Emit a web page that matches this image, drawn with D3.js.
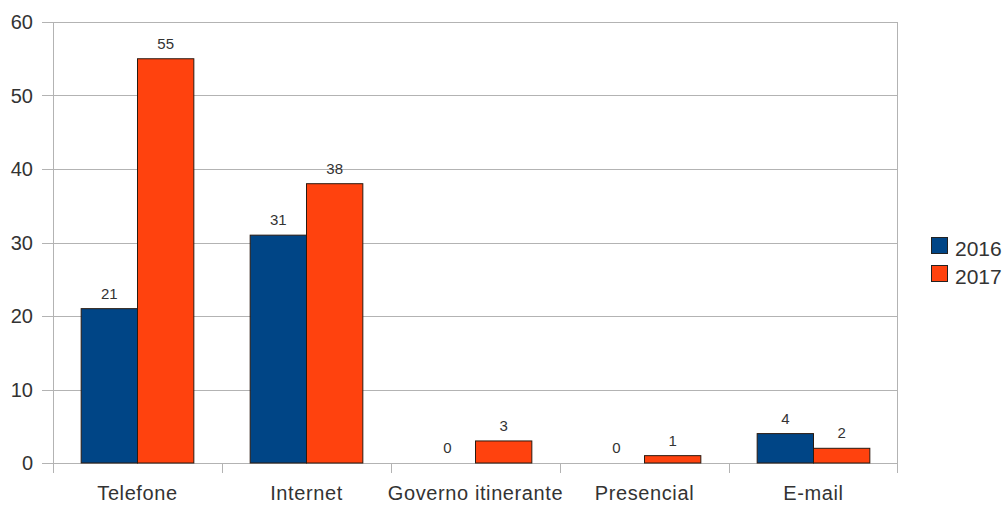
<!DOCTYPE html>
<html>
<head>
<meta charset="utf-8">
<script src="https://cdn.jsdelivr.net/npm/d3@7"></script>
<style>
  body { margin: 0; background: #fff; }
  text { font-family: "Liberation Sans", Arial, sans-serif; fill: #333; }
</style>
</head>
<body>
<svg id="chart" width="1005" height="505"></svg>
<script>
// chart data
var categories = ['Telefone', 'Internet', 'Governo itinerante', 'Presencial', 'E-mail'];
var years = ['2016', '2017'];
var values2016 = [21, 31, 0, 0, 4];
var values2017 = [55, 38, 3, 1, 2];
var yTicks = [0, 10, 20, 30, 40, 50, 60];
var colors = { '2016': '#004586', '2017': '#ff420e' };

var rows = categories.map(function(c, i) {
  return { cat: c, vals: [values2016[i], values2017[i]] };
});

var margin = { left: 53, right: 107, top: 22, bottom: 42 };
var width = 1005 - margin.left - margin.right,
    height = 505 - margin.top - margin.bottom;

var svg = d3.select('#chart');
var g = svg.append('g').attr('transform', 'translate(' + margin.left + ',' + margin.top + ')');

var x = d3.scaleBand().domain(categories).range([0, width]);
var x1 = d3.scaleBand().domain(years).range([x.bandwidth() / 6, x.bandwidth() * 5 / 6]);
var y = d3.scaleLinear().domain([0, 60]).range([height, 0]);

// gridlines + y ticks
g.selectAll('.grid').data(yTicks).enter().append('line')
  .attr('x1', -11).attr('x2', width)
  .attr('y1', function(d) { return Math.round(y(d)) + 0.5; })
  .attr('y2', function(d) { return Math.round(y(d)) + 0.5; })
  .attr('stroke', '#b3b3b3');

g.selectAll('.ylab').data(yTicks).enter().append('text')
  .attr('x', -20).attr('y', function(d) { return y(d); })
  .attr('dy', '0.36em')
  .attr('text-anchor', 'end')
  .attr('font-size', '20px')
  .text(function(d) { return d; });

// vertical axis line + right edge
g.append('line').attr('x1', 0.5).attr('x2', 0.5).attr('y1', 0).attr('y2', height + 10).attr('stroke', '#b3b3b3');
g.append('line').attr('x1', width - 0.5).attr('x2', width - 0.5).attr('y1', 0).attr('y2', height + 10).attr('stroke', '#b3b3b3');

// category ticks
var bounds = categories.map(function(c) { return x(c); });
g.selectAll('.xtick').data(bounds).enter().append('line')
  .attr('x1', function(d) { return Math.round(d) + 0.5; })
  .attr('x2', function(d) { return Math.round(d) + 0.5; })
  .attr('y1', height).attr('y2', height + 10)
  .attr('stroke', '#b3b3b3');

g.selectAll('.xlab').data(categories).enter().append('text')
  .attr('x', function(d) { return x(d) + x.bandwidth() / 2; })
  .attr('y', height + 37)
  .attr('text-anchor', 'middle')
  .attr('font-size', '20px')
  .attr('letter-spacing', '0.6px')
  .text(function(d) { return d; });

// bars
var grp = g.selectAll('.grp').data(rows).enter().append('g')
  .attr('transform', function(d) { return 'translate(' + x(d.cat) + ',0)'; });

grp.selectAll('rect').data(function(d) { return d.vals; }).enter().append('rect')
  .attr('x', function(d, i) { return x1(years[i]); })
  .attr('y', function(d) { return y(d); })
  .attr('width', x1.bandwidth())
  .attr('height', function(d) { return height - y(d); })
  .attr('fill', function(d, i) { return colors[years[i]]; })
  .attr('stroke', function(d) { return d > 0 ? '#2a1a10' : 'none'; })
  .attr('stroke-width', 1);

grp.selectAll('.vlab').data(function(d) { return d.vals; }).enter().append('text')
  .attr('x', function(d, i) { return x1(years[i]) + x1.bandwidth() / 2; })
  .attr('y', function(d) { return y(d) - 10; })
  .attr('text-anchor', 'middle')
  .attr('font-size', '15px')
  .text(function(d) { return d; });

// legend
var leg = svg.append('g').attr('transform', 'translate(931,237)');
years.forEach(function(yr, i) {
  leg.append('rect').attr('x', 0.5).attr('y', i * 28 + 0.5).attr('width', 16).attr('height', 16)
    .attr('fill', colors[yr]).attr('stroke', '#222');
  leg.append('text').attr('x', 24).attr('y', i * 28 + 19)
    .attr('font-size', '21px').text(yr);
});
</script>
</body>
</html>
